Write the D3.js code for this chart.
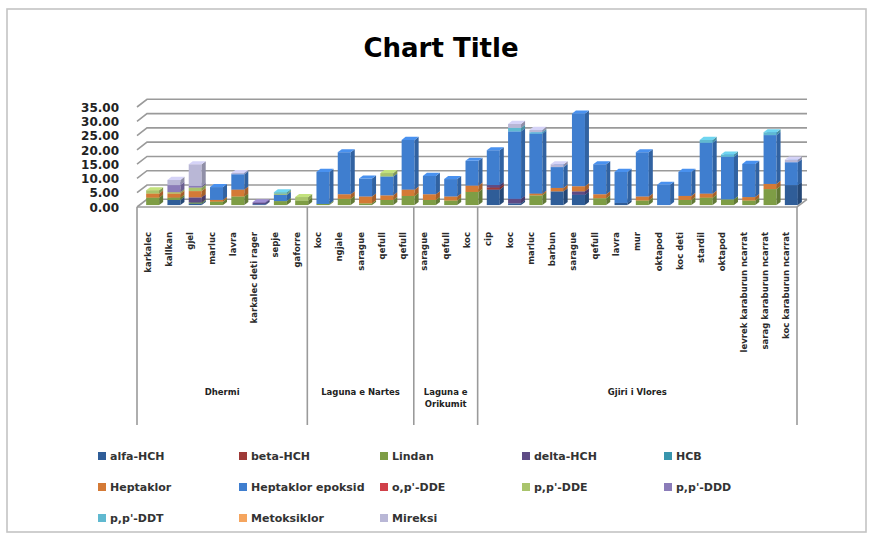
<!DOCTYPE html>
<html>
<head>
<meta charset="utf-8">
<script src="https://cdn.jsdelivr.net/npm/d3@7"></script>
<style>
  body { margin: 0; background: #fff; }
  svg { display: block; }
</style>
</head>
<body>
<svg id="chart" width="871" height="535"></svg>
<script>
// ---- data -------------------------------------------------------------
const categories = [
  "karkalec", "kallkan", "gjel", "marluc", "lavra", "karkalec deti rager", "sepje", "gaforre",
  "koc", "ngjale", "sarague", "qefull", "qefull",
  "sarague", "qefull", "koc",
  "cip", "koc", "marluc", "barbun", "sarague", "qefull", "lavra", "mur", "oktapod",
  "koc deti", "stardil", "oktapod", "levrek karaburun ncarrat", "sarag karaburun ncarrat",
  "koc karaburun ncarrat"
];
const groups = ["Dhermi", "Laguna e Nartes", "Laguna e Orikumit", "Gjiri i Vlores"];
const groupSizes = [8, 5, 3, 15];

const seriesNames = [
  "alfa-HCH", "beta-HCH", "Lindan", "delta-HCH", "HCB",
  "Heptaklor", "Heptaklor epoksid", "o,p'-DDE", "p,p'-DDE", "p,p'-DDD",
  "p,p'-DDT", "Metoksiklor", "Mireksi"
];
const seriesColors = [
  "#2f5d98", "#9e3a38", "#7e9d45", "#5e4b85", "#3895ad",
  "#d47a36", "#3f7ecf", "#d04049", "#a9c46c", "#8b7cb9",
  "#60b9d0", "#f5a55e", "#b9b7d6"
];

const alfaHCH          = [0, 1.8, 0.5, 0, 0, 0.3, 0, 0,  0, 0, 0, 0, 0,  0, 0, 0,  5.4, 0.6, 0, 4.8, 3.6, 0, 0.8, 0, 0, 0, 0, 0, 0, 0, 7.0];
const betaHCH          = [0, 0, 0, 0, 0, 0, 0, 0,  0, 0, 0, 0, 0,  0, 0, 0,  0.8, 0, 0, 0, 0, 0, 0, 0, 0, 0, 0, 0, 0, 0, 0];
const lindan           = [2.6, 0.8, 0.4, 1.2, 3.0, 0, 1.4, 1.6,  0.4, 2.2, 0.6, 1.8, 3.2,  1.8, 1.6, 4.6,  0, 0, 3.4, 0, 0, 2.4, 0, 1.6, 0, 1.8, 2.6, 2.0, 1.6, 5.6, 0];
const deltaHCH         = [0, 0, 1.8, 0, 0, 0.4, 0, 0,  0, 0, 0, 0, 0,  0, 0, 0,  0.8, 1.6, 0, 0, 1.2, 0, 0, 0, 0, 0, 0, 0, 0, 0, 0];
const hcb              = [0, 0, 0, 0, 0, 0, 0, 0,  0, 0, 0, 0, 0,  0, 0, 0,  0, 0, 0, 0, 0, 0, 0, 0, 0, 0, 0, 0, 0, 0, 0];
const heptaklor        = [1.4, 1.4, 2.2, 0.6, 2.4, 0, 0, 0,  0, 1.6, 2.4, 1.6, 2.2,  2.0, 1.4, 2.2,  0, 0, 0.6, 1.2, 1.8, 1.4, 0, 1.4, 0, 1.4, 1.4, 0, 1.2, 1.8, 0];
const heptaklorEpoksid = [0, 0, 0, 4.5, 5.4, 0, 2.2, 0,  11.2, 14.7, 6.3, 6.6, 17.4,  6.4, 6.1, 8.7,  12.2, 23.6, 21.0, 7.3, 25.4, 10.5, 10.8, 15.5, 7.1, 8.4, 17.8, 14.9, 11.6, 17.1, 8.0];
const opDDE            = [0, 0, 0, 0, 0, 0, 0, 0,  0, 0, 0, 0, 0,  0, 0, 0,  0, 0, 0, 0, 0, 0, 0, 0, 0, 0, 0, 0, 0, 0, 0];
const ppDDE            = [1.2, 0.5, 1.2, 0, 0, 0, 0.4, 1.2,  0, 0, 0, 1.2, 0,  0, 0, 0,  0, 0, 0, 0, 0, 0, 0, 0, 0, 0, 0, 0, 0, 0, 0];
const ppDDD            = [0, 2.5, 0.6, 0, 0, 0.3, 0, 0,  0, 0, 0, 0, 0,  0, 0, 0,  0, 0, 0, 0, 0, 0, 0, 0, 0, 0, 0, 0, 0, 0, 0];
const ppDDT            = [0, 0, 0, 0, 0, 0, 0.5, 0,  0, 0, 0, 0, 0,  0, 0, 0,  0, 1.2, 0.5, 0, 0, 0, 0, 0, 0, 0, 1.0, 0.8, 0, 1.0, 0];
const metoksiklor      = [0, 0, 0, 0, 0, 0, 0, 0,  0, 0, 0, 0, 0,  0, 0, 0,  0, 0, 0, 0, 0, 0, 0, 0, 0, 0, 0, 0, 0, 0, 0];
const mireksi          = [0, 1.8, 7.6, 0, 0.4, 0, 0, 0,  0, 0, 0, 0, 0,  0, 0, 0,  0, 1.4, 0.8, 1.0, 0, 0, 0, 0, 0, 0, 0, 0, 0, 0, 0.9];

const yTicks = [0, 5, 10, 15, 20, 25, 30, 35];

const seriesValues = [alfaHCH, betaHCH, lindan, deltaHCH, hcb, heptaklor, heptaklorEpoksid,
  opDDE, ppDDE, ppDDD, ppDDT, metoksiklor, mireksi];

// ---- layout -----------------------------------------------------------
const svg = d3.select("#chart");
const floorY = 207, left = 137, right = 797;
const DX = 10, DY = -7.7;            // oblique depth vector (front -> back wall)
const d0 = 0.25, d1 = 0.65;         // bar depth span as fraction of the depth
const gridColor = "#9a9a9a";

const y = d3.scaleLinear().domain([0, 35]).range([floorY, 107]);
const x = d3.scaleBand().domain(d3.range(categories.length)).range([left, right]).padding(0);

// chart-area frame
svg.append("rect").attr("x", 7).attr("y", 9).attr("width", 859).attr("height", 523)
  .attr("fill", "#fff").attr("stroke", "#c4c4c4").attr("stroke-width", 1.6);

// title
svg.append("text").attr("x", 441).attr("y", 57).attr("text-anchor", "middle")
  .attr("font-family", "DejaVu Sans").attr("font-weight", "bold").attr("font-size", 26)
  .attr("fill", "#000").text("Chart Title");

// back wall gridlines + side wall slants
const grid = svg.append("g").attr("stroke", gridColor).attr("stroke-width", 1.6).attr("fill", "none");
yTicks.forEach(t => {
  const yy = y(t);
  grid.append("path").attr("d", `M${left},${yy}L${left + DX},${yy + DY}L${right + DX},${yy + DY}`);
});
// floor edges
grid.append("path").attr("d", `M${left},${floorY}L${right},${floorY}L${right + DX},${floorY + DY}`);

// y axis labels
const yAxis = d3.axisLeft(y).tickValues(yTicks).tickSize(0).tickPadding(0)
  .tickFormat(d3.format(".2f"));
const yg = svg.append("g").attr("transform", "translate(119,0)").call(yAxis);
yg.select(".domain").remove();
yg.selectAll("text").attr("font-family", "DejaVu Sans").attr("font-weight", "bold")
  .attr("font-size", 12).attr("fill", "#222").attr("dy", "0.35em");

// stacked 3D bars
const stackData = categories.map((c, i) => {
  const o = { i };
  seriesNames.forEach((s, k) => { o[s] = seriesValues[k][i]; });
  return o;
});
const stacked = d3.stack().keys(seriesNames)(stackData);

const faceW = 13;
const barsG = svg.append("g");
categories.forEach((c, i) => {
  const cx = x(i) + x.bandwidth() / 2;
  const fx = cx - 4 + DX * d0;        // front face left
  const sx = DX * (d1 - d0), sy = DY * (d1 - d0);
  const oy = DY * d0;
  stacked.forEach((layer, k) => {
    const [v0, v1] = layer[i];
    if (v1 - v0 <= 0) return;
    const col = d3.color(seriesColors[k]);
    const yT = y(v1) + oy, yB = y(v0) + oy;
    const g = barsG.append("g");
    // front face
    g.append("rect").attr("x", fx).attr("y", yT).attr("width", faceW).attr("height", yB - yT)
      .attr("fill", col.formatHex());
    // right side face
    g.append("path")
      .attr("d", `M${fx + faceW},${yB}L${fx + faceW + sx},${yB + sy}L${fx + faceW + sx},${yT + sy}L${fx + faceW},${yT}Z`)
      .attr("fill", col.darker(0.7).formatHex());
    // top face
    g.append("path")
      .attr("d", `M${fx},${yT}L${fx + faceW},${yT}L${fx + faceW + sx},${yT + sy}L${fx + sx},${yT + sy}Z`)
      .attr("fill", col.brighter(0.4).formatHex());
  });
});

// category axis (inner level), labels hang down from just below the floor
const xAxis = d3.axisBottom(x).tickSize(0).tickFormat(i => categories[i]);
const xg = svg.append("g").attr("transform", `translate(0,${floorY})`).call(xAxis);
xg.select(".domain").remove();
xg.selectAll("text")
  .attr("font-family", "DejaVu Sans").attr("font-weight", "bold").attr("font-size", 8.5)
  .attr("fill", "#2a2a2a")
  .attr("text-anchor", "end")
  .attr("transform", "rotate(-90)")
  .attr("x", -25).attr("y", 0).attr("dy", "0.35em");

// group separators and outer-level labels
const sep = svg.append("g").attr("stroke", gridColor).attr("stroke-width", 1.6);
let start = 0;
const bounds = [0];
groupSizes.forEach(n => { start += n; bounds.push(start); });
bounds.forEach(b => {
  const bx = b < categories.length ? x(b) : right;
  sep.append("line").attr("x1", bx).attr("x2", bx).attr("y1", floorY).attr("y2", 425);
});
groups.forEach((g, gi) => {
  const a = bounds[gi], b = bounds[gi + 1];
  const xa = x(a), xb = b < categories.length ? x(b) : right;
  const words = g === "Laguna e Orikumit" ? ["Laguna e", "Orikumit"] : [g];
  words.forEach((w, wi) => {
    svg.append("text").attr("x", (xa + xb) / 2).attr("y", 395 + wi * 12)
      .attr("text-anchor", "middle").attr("font-family", "DejaVu Sans")
      .attr("font-weight", "bold").attr("font-size", 8.5).attr("fill", "#222").text(w);
  });
});

// legend
const legCols = [98, 239, 380, 522, 664];
const legRows = [456, 487, 518];
const leg = svg.append("g");
seriesNames.forEach((s, k) => {
  const lx = legCols[k % 5], ly = legRows[Math.floor(k / 5)];
  leg.append("rect").attr("x", lx).attr("y", ly - 4).attr("width", 8).attr("height", 8)
    .attr("fill", seriesColors[k]);
  leg.append("text").attr("x", lx + 12).attr("y", ly).attr("dy", "0.35em")
    .attr("font-family", "DejaVu Sans").attr("font-weight", "bold").attr("font-size", 11)
    .attr("fill", "#333").text(s);
});
</script>
</body>
</html>
